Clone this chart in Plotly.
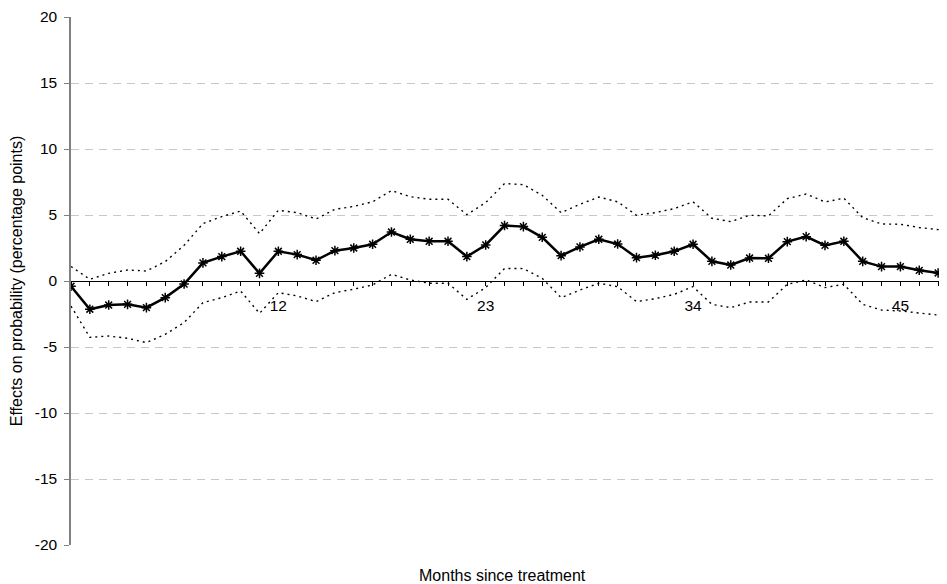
import plotly.graph_objects as go

months = list(range(1, 49))
effect = [-0.4, -2.14, -1.82, -1.77, -2.02, -1.26, -0.23, 1.37, 1.85, 2.25,
          0.58, 2.25, 2.0, 1.57, 2.3, 2.5, 2.78, 3.71, 3.16, 3.01,
          3.01, 1.85, 2.73, 4.2, 4.12, 3.31, 1.92, 2.58, 3.16, 2.8,
          1.77, 1.95, 2.25, 2.78, 1.49, 1.21, 1.74, 1.72, 2.98, 3.36,
          2.7, 3.01, 1.49, 1.09, 1.09, 0.81, 0.61, 1.8]
upper = [1.1, 0.13, 0.58, 0.83, 0.76, 1.47, 2.7, 4.35, 4.88, 5.3,
         3.59, 5.36, 5.18, 4.7, 5.43, 5.65, 6.0, 6.85, 6.39, 6.19,
         6.19, 5.03, 5.94, 7.38, 7.3, 6.49, 5.18, 5.81, 6.36, 6.0,
         4.98, 5.18, 5.48, 6.0, 4.75, 4.5, 4.98, 4.93, 6.24, 6.59,
         5.99, 6.27, 4.8, 4.32, 4.3, 4.05, 3.89, 4.8]
lower = [-1.9, -4.27, -4.17, -4.34, -4.67, -4.04, -3.15, -1.64, -1.26, -0.76,
         -2.45, -0.88, -1.13, -1.56, -0.88, -0.62, -0.3, 0.51, 0.08, -0.17,
         -0.17, -1.39, -0.5, 0.95, 0.94, 0.2, -1.26, -0.68, -0.17, -0.43,
         -1.56, -1.34, -1.01, -0.43, -1.77, -2.02, -1.59, -1.59, -0.25, 0.08,
         -0.5, -0.25, -1.77, -2.2, -2.27, -2.45, -2.58, -1.2]
labelled_months = [12, 23, 34, 45]
tick_text = [str(m) if m in labelled_months else "" for m in months]
y_ticks = [-20, -15, -10, -5, 0, 5, 10, 15, 20]
y_tick_text = [str(v) for v in y_ticks]

FONT = "Liberation Sans, Arial, sans-serif"

fig = go.Figure()
for band in (upper, lower):
    fig.add_trace(go.Scatter(
        x=months, y=band, mode="lines",
        line=dict(color="black", width=1.4, dash="2px,4px"),
        hoverinfo="skip", showlegend=False))
fig.add_trace(go.Scatter(
    x=months, y=effect, mode="lines+markers",
    line=dict(color="black", width=2.5),
    marker=dict(symbol="asterisk-open", size=8, color="black",
                line=dict(color="black", width=1.5)),
    showlegend=False))

fig.update_layout(
    width=939, height=576,
    margin=dict(l=63, r=0, t=9, b=39, autoexpand=False),
    paper_bgcolor="white", plot_bgcolor="white",
    font=dict(family=FONT, size=15.5, color="black"),
    xaxis=dict(
        range=[1, 1 + 876 / 18.85],
        anchor="free", position=0.5, automargin=False,
        tickmode="array", tickvals=months, ticktext=tick_text,
        ticks="outside", ticklen=4, tickwidth=1, tickcolor="black",
        showline=True, linecolor="black", linewidth=1.3,
        showgrid=False, zeroline=False,
        ticklabelstandoff=6,
        tickfont=dict(family=FONT, size=15.5, color="black"),
    ),
    yaxis=dict(
        range=[-20, 20], automargin=False,
        tickmode="array", tickvals=y_ticks, ticktext=y_tick_text,
        ticks="outside", ticklen=5, tickwidth=1, tickcolor="#808080",
        showline=True, linecolor="#808080", linewidth=1.5,
        showgrid=True, gridcolor="#c8c8c8", gridwidth=1, griddash="8px,6px",
        zeroline=False,
        ticklabelstandoff=4,
        tickfont=dict(family=FONT, size=15.5, color="black"),
        title=dict(text="Effects on probability (percentage points)",
                   font=dict(family=FONT, size=16, color="black"),
                   standoff=9),
    ),
    annotations=[dict(
        text="Months since treatment", xref="paper", yref="paper",
        x=0.493, y=0, xanchor="center", yanchor="top", yshift=-20,
        showarrow=False, font=dict(family=FONT, size=16, color="black"))],
)

fig.write_html("out.html")
